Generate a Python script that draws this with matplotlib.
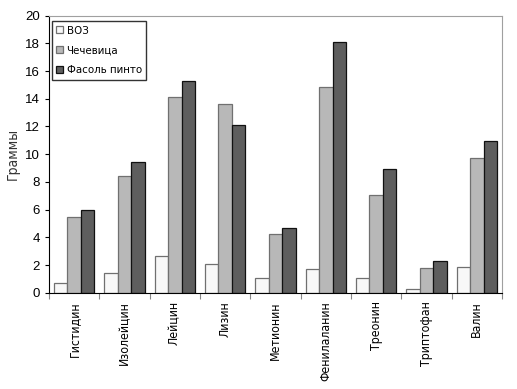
import matplotlib
matplotlib.use("Agg")
import matplotlib.pyplot as plt
import numpy as np

plt.rcParams['font.family'] = ['DejaVu Sans']
plt.rcParams['font.stretch'] = 'condensed'

categories = ["Гистидин", "Изолейцин", "Лейцин", "Лизин", "Метионин",
              "Фенилаланин", "Треонин", "Триптофан", "Валин"]
who = [0.72, 1.4, 2.67, 2.05, 1.03, 1.73, 1.03, 0.29, 1.83]
lentil = [5.5, 8.45, 14.15, 13.65, 4.24, 14.87, 7.03, 1.78, 9.72]
pinto = [5.97, 9.46, 15.28, 12.13, 4.65, 18.07, 8.9, 2.26, 10.95]
series_names = ["ВОЗ", "Чечевица", "Фасоль пинто"]

fig = plt.figure(figsize=(5.17, 3.89), dpi=100)
ax = fig.add_axes([49/517, 1-292.7/389, (502-49)/517, (292.7-15.7)/389])

x = np.arange(len(categories))
w = 0.265
ax.bar(x - w, who, w, color="#f8f8f8", edgecolor="#707070", linewidth=0.9, label=series_names[0])
ax.bar(x, lentil, w, color="#b8b8b8", edgecolor="#707070", linewidth=0.9, label=series_names[1])
ax.bar(x + w, pinto, w, color="#5e5e5e", edgecolor="#111111", linewidth=0.9, label=series_names[2])

ax.set_xlim(-0.5, len(categories) - 0.5)
ax.set_ylim(0, 20)
ax.set_yticks(range(0, 21, 2))
ax.tick_params(axis='y', labelsize=9.5, length=3, direction='out')
for lab in ax.get_yticklabels():
    lab.set_fontfamily(['Liberation Sans', 'DejaVu Sans'])
    lab.set_fontstretch('normal')
ax.set_xticks(np.arange(len(categories) + 1) - 0.5)
ax.set_xticklabels([])
ax.set_xticks(x, minor=True)
ax.set_xticklabels(categories, minor=True, rotation=90, fontsize=8.8)
ax.tick_params(axis='x', which='minor', length=0, pad=6)
ax.tick_params(axis='x', which='major', length=4, direction='out', color="#888888")

for s in ['top', 'right']:
    ax.spines[s].set_color("#a0a0a0")
ax.spines['left'].set_color("black")
ax.spines['bottom'].set_color("black")

ax.set_ylabel("Граммы", fontsize=10, color="#333333", labelpad=4)

leg = ax.legend(loc="upper left", bbox_to_anchor=(0.006, 0.98), fontsize=8.2, frameon=True,
                fancybox=False, edgecolor="black", handlelength=0.6, handleheight=0.6,
                handletextpad=0.3, borderpad=0.4, labelspacing=0.85, borderaxespad=0)
leg.get_frame().set_linewidth(1.0)

fig.savefig("out.png", dpi=100)
